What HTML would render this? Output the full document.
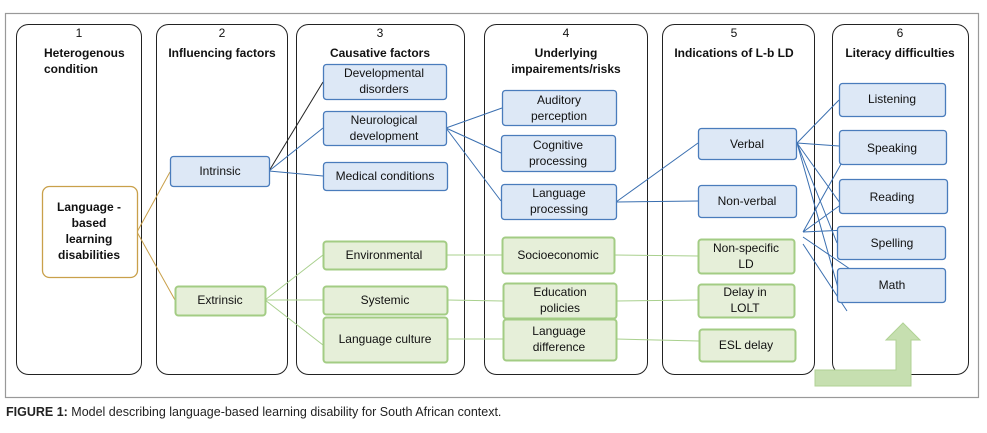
<!DOCTYPE html>
<html><head><style>
body{margin:0;background:#fff;width:987px;height:428px;overflow:hidden}
svg text{font-family:"Liberation Sans",sans-serif}
</style></head><body>
<svg width="987" height="428" viewBox="0 0 987 428" xmlns="http://www.w3.org/2000/svg">
<rect x="5.5" y="13.5" width="973" height="384" fill="#fff" stroke="#999" stroke-width="1.2"/>
<g fill="none" stroke="#222" stroke-width="1">
<rect x="16.5" y="24.5" width="125" height="350" rx="12"/>
<rect x="156.5" y="24.5" width="131" height="350" rx="12"/>
<rect x="296.5" y="24.5" width="168" height="350" rx="12"/>
<rect x="484.5" y="24.5" width="163" height="350" rx="12"/>
<rect x="662.5" y="24.5" width="152" height="350" rx="12"/>
<rect x="832.5" y="24.5" width="136" height="350" rx="12"/>
</g>
<g font-size="12" font-weight="bold" fill="#111" text-anchor="middle">
<text x="79" y="37" font-weight="normal">1</text>
<text x="222" y="37" font-weight="normal">2</text>
<text x="380" y="37" font-weight="normal">3</text>
<text x="566" y="37" font-weight="normal">4</text>
<text x="734" y="37" font-weight="normal">5</text>
<text x="900" y="37" font-weight="normal">6</text>
<text x="44" y="57" text-anchor="start">Heterogenous</text>
<text x="44" y="73" text-anchor="start">condition</text>
<text x="222" y="57">Influencing factors</text>
<text x="380" y="57">Causative factors</text>
<text x="566" y="57">Underlying</text>
<text x="566" y="73">impairements/risks</text>
<text x="734" y="57">Indications of L-b LD</text>
<text x="900" y="57">Literacy difficulties</text>
</g>
<!-- connectors -->
<g fill="none" stroke-width="1">
<path d="M137 232 L170 172 M137 232 L175 300" stroke="#c9a04a"/>
<path d="M269 171 L323 82" stroke="#222"/>
<path d="M269 171 L323 128 M269 171 L323 176" stroke="#3a6fb0"/>
<path d="M446 128 L502 108 M446 128 L501 153 M446 128 L501 201" stroke="#3a6fb0"/>
<path d="M616 202 L698 143 M616 202 L698 201" stroke="#3a6fb0"/>
<path d="M797 143 L839 100 M797 143 L839 146 M797 143 L840 203 M797 143 L837 243 M797 143 L842 302" stroke="#3a6fb0"/>
<path d="M803 232 L850 148 M803 232 L853 196 M803 232 L847 230 M803 237 L850 269 M803 244 L847 311" stroke="#3a6fb0"/>
<path d="M265 300 L323 255 M265 300 L323 300 M265 300 L323 345" stroke="#a9d08e"/>
<path d="M446 255 L502 255 M447 300 L503 301 M447 339 L503 339 M614 255 L698 256 M616 301 L698 300 M616 339 L699 341" stroke="#a9d08e"/>
</g>
<!-- nodes -->
<g stroke-width="1.3">
<rect x="42.5" y="186.5" width="95" height="91" rx="7" fill="#fff" stroke="#c9a04a"/>
<g fill="#dde8f6" stroke="#4a7cbc">
<rect x="170.5" y="156.5" width="99" height="30" rx="3"/>
<rect x="323.5" y="64.5" width="123" height="35" rx="3"/>
<rect x="323.5" y="111.5" width="123" height="34" rx="3"/>
<rect x="323.5" y="162.5" width="124" height="28" rx="3"/>
<rect x="502.5" y="90.5" width="114" height="35" rx="3"/>
<rect x="501.5" y="135.5" width="114" height="36" rx="3"/>
<rect x="501.5" y="184.5" width="115" height="35" rx="3"/>
<rect x="698.5" y="128.5" width="98" height="31" rx="3"/>
<rect x="698.5" y="185.5" width="98" height="32" rx="3"/>
<rect x="839.5" y="83.5" width="106" height="33" rx="3"/>
<rect x="839.5" y="130.5" width="107" height="34" rx="3"/>
<rect x="839.5" y="179.5" width="108" height="34" rx="3"/>
<rect x="837.5" y="226.5" width="108" height="33" rx="3"/>
<rect x="837.5" y="268.5" width="108" height="34" rx="3"/>
</g>
<g fill="#e6efd9" stroke="#a3cc84" stroke-width="2">
<rect x="175.5" y="286.5" width="90" height="29" rx="3"/>
<rect x="323.5" y="241.5" width="123" height="28" rx="3"/>
<rect x="323.5" y="286.5" width="124" height="28" rx="3"/>
<rect x="323.5" y="317.5" width="124" height="45" rx="3"/>
<rect x="502.5" y="237.5" width="112" height="36" rx="3"/>
<rect x="503.5" y="283.5" width="113" height="35" rx="3"/>
<rect x="503.5" y="319.5" width="113" height="41" rx="3"/>
<rect x="698.5" y="239.5" width="96" height="34" rx="3"/>
<rect x="698.5" y="284.5" width="96" height="33" rx="3"/>
<rect x="699.5" y="329.5" width="96" height="32" rx="3"/>
</g>
</g>
<!-- arrow -->
<path d="M815 370 L896 370 L896 340 L886 340 L903 323 L920 340 L911 340 L911 386 L815 386 Z" fill="#c6dfb0" stroke="#b0d294" stroke-width="1"/>
<g font-size="12" fill="#111" text-anchor="middle">
<g font-weight="bold">
<text x="89" y="211">Language -</text>
<text x="89" y="227">based</text>
<text x="89" y="243">learning</text>
<text x="89" y="259">disabilities</text>
</g>
<text x="220" y="175">Intrinsic</text>
<text x="220" y="304">Extrinsic</text>
<text x="384" y="77">Developmental</text>
<text x="384" y="93">disorders</text>
<text x="384" y="124">Neurological</text>
<text x="384" y="140">development</text>
<text x="385" y="180">Medical conditions</text>
<text x="384" y="259">Environmental</text>
<text x="385" y="304">Systemic</text>
<text x="385" y="343">Language culture</text>
<text x="559" y="104">Auditory</text>
<text x="559" y="120">perception</text>
<text x="558" y="149">Cognitive</text>
<text x="558" y="165">processing</text>
<text x="559" y="197">Language</text>
<text x="559" y="213">processing</text>
<text x="558" y="259">Socioeconomic</text>
<text x="560" y="296">Education</text>
<text x="560" y="312">policies</text>
<text x="559" y="335">Language</text>
<text x="559" y="351">difference</text>
<text x="747" y="148">Verbal</text>
<text x="747" y="205">Non-verbal</text>
<text x="746" y="252">Non-specific</text>
<text x="746" y="268">LD</text>
<text x="745" y="296">Delay in</text>
<text x="745" y="312">LOLT</text>
<text x="746" y="349">ESL delay</text>
<text x="892" y="103">Listening</text>
<text x="892" y="152">Speaking</text>
<text x="892" y="201">Reading</text>
<text x="892" y="247">Spelling</text>
<text x="892" y="289">Math</text>
</g>
<text x="6" y="416" font-size="12.5" fill="#222"><tspan font-weight="bold">FIGURE 1:</tspan> Model describing language-based learning disability for South African context.</text>
</svg>
</body></html>
